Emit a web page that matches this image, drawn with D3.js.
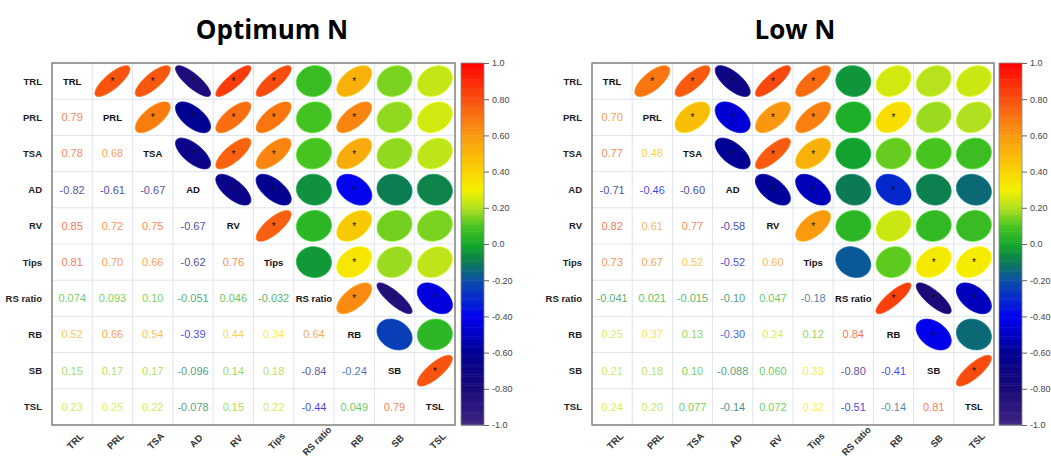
<!DOCTYPE html>
<html>
<head>
<meta charset="utf-8">
<script src="https://cdn.jsdelivr.net/npm/d3@7"></script>
<style>
  body { margin: 0; background: #fff; }
  svg { display: block; font-family: "Liberation Sans", Arial, sans-serif; }
</style>
</head>
<body>
<div id="chart"></div>
<script>
// variables, shared by both panels
const vars = ["TRL", "PRL", "TSA", "AD", "RV", "Tips", "RS ratio", "RB", "SB", "TSL"];

// lower triangle, row by row (row i holds r with columns 0..i-1)
const optimumN = [
    [],
    [0.79],
    [0.78, 0.68],
    [-0.82, -0.61, -0.67],
    [0.85, 0.72, 0.75, -0.67],
    [0.81, 0.70, 0.66, -0.62, 0.76],
    [0.074, 0.093, 0.10, -0.051, 0.046, -0.032],
    [0.52, 0.66, 0.54, -0.39, 0.44, 0.34, 0.64],
    [0.15, 0.17, 0.17, -0.096, 0.14, 0.18, -0.84, -0.24],
    [0.23, 0.25, 0.22, -0.078, 0.15, 0.22, -0.44, 0.049, 0.79]
];

const lowN = [
    [],
    [0.70],
    [0.77, 0.48],
    [-0.71, -0.46, -0.60],
    [0.82, 0.61, 0.77, -0.58],
    [0.73, 0.67, 0.52, -0.52, 0.60],
    [-0.041, 0.021, -0.015, -0.10, 0.047, -0.18],
    [0.25, 0.37, 0.13, -0.30, 0.24, 0.12, 0.84],
    [0.21, 0.18, 0.10, -0.088, 0.060, 0.33, -0.80, -0.41],
    [0.24, 0.20, 0.077, -0.14, 0.072, 0.32, -0.51, -0.14, 0.81]
];

const colorTicks = [1, 0.8, 0.6, 0.4, 0.2, 0, -0.2, -0.4, -0.6, -0.8, -1];
const sigLevel = 0.3; // |r| above this gets a star

// colour ramp
const color = d3.scaleLinear()
    .domain([-1, -0.8, -0.6, -0.4, -0.2, -0.1, 0, 0.1, 0.2, 0.3, 0.4, 0.6, 0.8, 1])
    .range(["#3d2380", "#1a0a78", "#000092", "#0000f0", "#0a4fa8", "#0c7a54", "#14a82a",
            "#48c420", "#b0e020", "#f4f200", "#f8d400", "#fa9a10", "#f85010", "#ff0000"])
    .interpolate(d3.interpolateRgb);

const loc = d3.formatLocale({decimal: ".", thousands: ",", grouping: [3], currency: ["", ""], minus: "-"});
const fmt = loc.format(".2r");
const tickFmt = d => d === 1 || d === -1 || d === 0 ? loc.format(".1f")(d) : loc.format(".2f")(d);

const W = 1051, H = 463;
const svg = d3.select("#chart").append("svg")
    .attr("width", W)
    .attr("height", H);

function drawPanel(title, data, box) {
    let x = d3.scaleBand().domain(vars).range([box.x0, box.x1]);
    let y = d3.scaleBand().domain(vars).range([box.y0, box.y1]);
    let cw = x.bandwidth(), ch = y.bandwidth();

    let g = svg.append("g");

    g.append("text")
        .attr("x", box.tx)
        .attr("y", 39)
        .attr("text-anchor", "middle")
        .style("font-family", "'Open Sans', sans-serif")
        .style("font-weight", "700")
        .style("font-size", "26px")
        .text(title);

    // full matrix cells
    let cells = [];
    vars.forEach((rv, i) => vars.forEach((cv, j) => {
        let r = i > j ? data[i][j] : (j > i ? data[j][i] : 1);
        cells.push({row: rv, col: cv, i, j, r});
    }));

    // grid
    let grid = g.append("g").attr("stroke", "#dfe5ee").attr("stroke-width", 1);
    vars.slice(1).forEach(v => {
        grid.append("line").attr("x1", x(v)).attr("x2", x(v)).attr("y1", box.y0).attr("y2", box.y1);
        grid.append("line").attr("y1", y(v)).attr("y2", y(v)).attr("x1", box.x0).attr("x2", box.x1);
    });

    // ellipses in the upper triangle
    let line = d3.line().curve(d3.curveLinearClosed);
    let ks = d3.range(0, 2 * Math.PI, Math.PI / 50);
    let ellipse = (d) => {
        let a = Math.acos(d.r);
        let cx = x(d.col) + cw / 2, cy = y(d.row) + ch / 2;
        return line(ks.map(k => [
            cx + Math.cos(k + a / 2) / 2 * cw * 0.87,
            cy - Math.cos(k - a / 2) / 2 * ch * 0.85
        ]));
    };

    let upper = cells.filter(d => d.j > d.i);
    g.append("g").selectAll("path")
        .data(upper)
        .join("path")
            .attr("d", ellipse)
            .attr("fill", d => color(d.r))
            .attr("stroke", d => d3.color(color(d.r)).brighter(0.5))
            .attr("stroke-width", 0.8);

    g.append("g").selectAll("text")
        .data(upper.filter(d => Math.abs(d.r) >= sigLevel))
        .join("text")
            .attr("x", d => x(d.col) + cw / 2)
            .attr("y", d => y(d.row) + ch / 2 + 4)
            .attr("text-anchor", "middle")
            .style("font-size", "10px")
            .attr("fill", "#111")
            .text("*");

    // numbers in the lower triangle
    g.append("g").selectAll("text")
        .data(cells.filter(d => d.i > d.j))
        .join("text")
            .attr("x", d => x(d.col) + cw / 2)
            .attr("y", d => y(d.row) + ch / 2)
            .attr("dy", "0.36em")
            .attr("text-anchor", "middle")
            .style("font-size", "11px")
            .attr("fill", d => color(d.r))
            .attr("fill-opacity", 0.75)
            .text(d => fmt(d.r));

    // names on the diagonal
    g.append("g").selectAll("text")
        .data(vars)
        .join("text")
            .attr("x", d => x(d) + cw / 2)
            .attr("y", d => y(d) + ch / 2)
            .attr("dy", "0.36em")
            .attr("text-anchor", "middle")
            .style("font-size", "9.5px")
            .style("font-weight", "bold")
            .attr("fill", "#111")
            .text(d => d);

    // outer box
    g.append("rect")
        .attr("x", box.x0).attr("y", box.y0)
        .attr("width", box.x1 - box.x0).attr("height", box.y1 - box.y0)
        .attr("fill", "none")
        .attr("stroke", "#777")
        .attr("stroke-width", 1.4);

    // row labels
    g.append("g").selectAll("text")
        .data(vars)
        .join("text")
            .attr("x", box.x0 - 10)
            .attr("y", d => y(d) + ch / 2)
            .attr("dy", "0.36em")
            .attr("text-anchor", "end")
            .style("font-size", "9.5px")
            .style("font-weight", "bold")
            .attr("fill", "#222")
            .text(d => d);

    // column labels, slanted and centred under each column
    g.append("g").selectAll("text")
        .data(vars)
        .join("text")
            .attr("transform", d => `translate(${x(d) + cw / 2 + 3},${box.y1 + 16}) rotate(-45)`)
            .attr("text-anchor", "middle")
            .attr("dy", "0.35em")
            .style("font-size", "9.5px")
            .style("font-weight", "bold")
            .attr("fill", "#333")
            .text(d => d);

    // colour legend
    let cy = d3.scaleLinear().domain([1, -1]).range([box.y0, box.y1]);
    let steps = d3.range(-1, 1, 0.01);
    let leg = g.append("g");
    leg.selectAll("rect")
        .data(steps)
        .join("rect")
            .attr("x", box.lx)
            .attr("y", d => cy(d + 0.01))
            .attr("width", 23)
            .attr("height", cy(0) - cy(0.01) + 0.5)
            .attr("fill", d => color(d + 0.005));
    leg.append("rect")
        .attr("x", box.lx).attr("y", box.y0)
        .attr("width", 23).attr("height", box.y1 - box.y0)
        .attr("fill", "none").attr("stroke", "#888").attr("stroke-width", 0.8);

    let axis = d3.axisRight(cy)
        .tickValues(colorTicks)
        .tickSize(5)
        .tickFormat(tickFmt);
    let ax = leg.append("g")
        .attr("transform", `translate(${box.lx + 23},0)`)
        .call(axis);
    ax.select(".domain").remove();
    ax.selectAll("line").attr("stroke", "#666");
    ax.selectAll("text")
        .style("font-size", "9px")
        .style("font-family", "'Liberation Sans', Arial, sans-serif")
        .attr("fill", "#444");
}

drawPanel("Optimum N", optimumN, {x0: 52, x1: 455, y0: 63, y1: 425, lx: 461, tx: 272});
drawPanel("Low N", lowN, {x0: 592, x1: 994, y0: 63, y1: 425, lx: 999, tx: 795});
</script>
</body>
</html>
